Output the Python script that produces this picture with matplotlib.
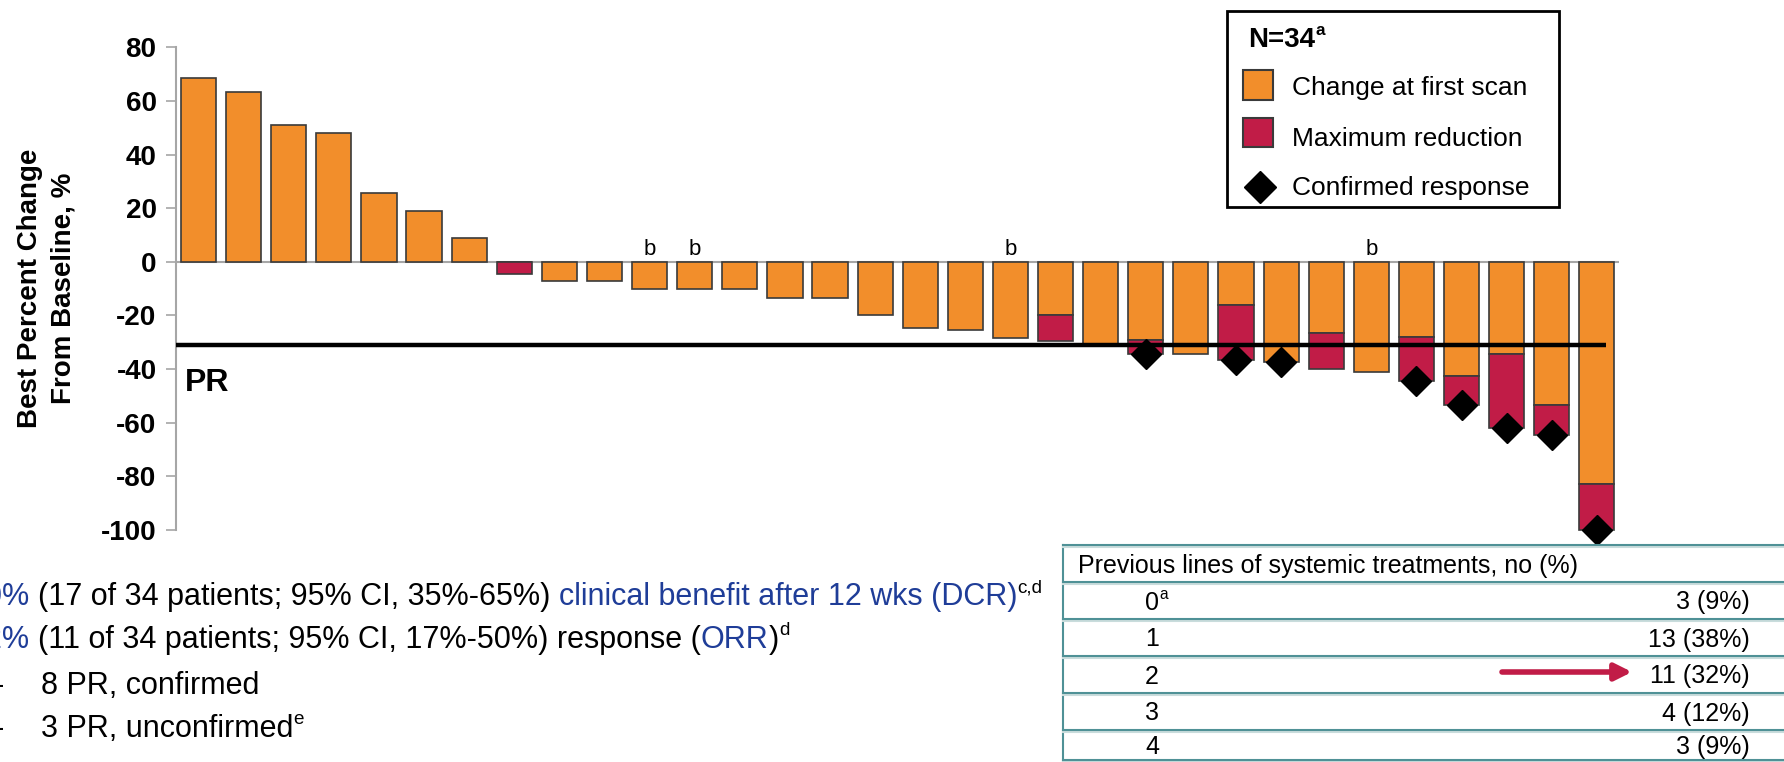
import matplotlib
matplotlib.use("Agg")
import matplotlib.pyplot as plt
import numpy as np
from matplotlib import font_manager
from matplotlib.patches import Rectangle

first_scan = [68.5, 63.5, 51, 48, 25.5, 19, 9, 0, -7, -7, -10, -10, -10, -13.5, -13.5,
              -20, -24.5, -25.5, -28.5, -20, -31, -29, -34.5, -16, -37.5, -26.5, -41,
              -28, -42.5, -34.5, -53.5, -83]
max_reduction = [68.5, 63.5, 51, 48, 25.5, 19, 9, -4.5, -7, -7, -10, -10, -10, -13.5, -13.5,
                 -20, -24.5, -25.5, -28.5, -29.5, -31, -34.5, -34.5, -36.5, -37.5, -40, -41,
                 -44.5, -53.5, -62, -64.5, -100]
confirmed = [21, 23, 24, 27, 28, 29, 30, 31]
footnote_b = [10, 11, 18, 26]
pr_threshold = -31
y_ticks = [80, 60, 40, 20, 0, -20, -40, -60, -80, -100]

# ---- baseline table ----
prior_lines = ["0", "1", "2", "3", "4"]
prior_counts = [3, 13, 11, 4, 3]
prior_pcts = [9, 38, 32, 12, 9]

W, H = 1784, 762
ORANGE = "#F28E2B"
RED = "#C11C47"
BLUE = "#1F3D98"
TEAL = "#4F9196"
EDGE = "#3A3A3A"
GRID = "#A6A6A6"

plt.rcParams["axes.unicode_minus"] = False
names = {f.name for f in font_manager.fontManager.ttflist}
NARROW = "Liberation Sans Narrow" if "Liberation Sans Narrow" in names else "Liberation Sans"
WIDE = "Liberation Sans"

fig = plt.figure(figsize=(W / 100, H / 100), dpi=100)
ax = fig.add_axes([176 / W, 1 - 530 / H, (1619.4 - 176) / W, (530 - 47.3) / H])

x = np.arange(len(first_scan))
first = np.array(first_scan, dtype=float)
best = np.array(max_reduction, dtype=float)

ax.axhline(0, color=GRID, lw=1.5, zorder=1)
ax.bar(x, first, width=0.78, color=ORANGE, edgecolor=EDGE, linewidth=1.2, zorder=2, clip_on=False)
more = best < first
ax.bar(x[more], (best - first)[more], bottom=first[more], width=0.78, color=RED,
       edgecolor=EDGE, linewidth=1.2, zorder=2, clip_on=False)
ax.hlines(pr_threshold, -0.5, len(x) - 0.8, color="black", lw=3.2, zorder=3)
ax.plot(x[confirmed], best[confirmed], "D", ms=15, color="black", zorder=4, clip_on=False)
for i in footnote_b:
    ax.text(x[i], 2.5, "b", ha="center", va="baseline", fontsize=16, family=NARROW)

ax.set_xlim(-0.5, len(x) - 0.5)
ax.set_ylim(-100, 80)
ax.set_xticks([])
ax.set_yticks(y_ticks)
ax.tick_params(axis="y", length=7, width=1.2, color=GRID, pad=7, labelsize=20)
for lab in ax.get_yticklabels():
    lab.set_family(NARROW)
    lab.set_fontweight("bold")
for side in ["top", "right", "bottom"]:
    ax.spines[side].set_visible(False)
ax.spines["left"].set_color(GRID)
ax.spines["left"].set_linewidth(1.5)

fig.text(47 / W, 1 - 288 / H, "Best Percent Change\nFrom Baseline, %", rotation=90,
         ha="center", va="center", fontsize=20, fontweight="bold", family=WIDE,
         linespacing=1.35, multialignment="center")

# overlay in pixel coordinates for legend, notes and table
ov = fig.add_axes([0, 0, 1, 1])
ov.set_xlim(0, W)
ov.set_ylim(H, 0)
ov.axis("off")
renderer = fig.canvas.get_renderer()


def advance(s, **kw):
    t = ov.text(0, 0, s + "|", **kw)
    w1 = t.get_window_extent(renderer).width
    t.set_text("|")
    w2 = t.get_window_extent(renderer).width
    t.remove()
    return w1 - w2


def put_runs(x0, base, runs, size, family=NARROW, weight="normal"):
    xc = x0
    for s, color, sup in runs:
        fs = size * 0.62 if sup else size
        yy = base - size * 1.389 * 0.42 if sup else base
        kw = dict(fontsize=fs, family=family, fontweight=weight, color=color)
        ov.text(xc, yy, s, ha="left", va="baseline", **kw)
        xc += advance(s, **kw)
    return xc


ov.text(185, 391, "PR", fontsize=23, fontweight="bold", family=NARROW, va="baseline")

# legend
ov.add_patch(Rectangle((1227, 11), 332, 196, fill=False, lw=2, edgecolor="black"))
put_runs(1248, 47, [("N=34", "black", False), ("a", "black", True)], 20, weight="bold")
ov.add_patch(Rectangle((1243, 70), 30, 30, fc=ORANGE, ec=EDGE, lw=1.5))
ov.add_patch(Rectangle((1243, 118), 30, 29, fc=RED, ec=EDGE, lw=1.5))
ov.plot([1260], [187], "D", ms=16, color="black")
for label, yc in [("Change at first scan", 85), ("Maximum reduction", 136), ("Confirmed response", 186)]:
    ov.text(1292, yc + 9.5, label, fontsize=19, family=NARROW, va="baseline")

# notes under the chart
NOTE = 22
kw_note = dict(fontsize=NOTE, family=NARROW)
lead1 = advance("50% ", **kw_note)
put_runs(38 - lead1, 605, [("50% ", BLUE, False),
                            ("(17 of 34 patients; 95% CI, 35%-65%) ", "black", False),
                            ("clinical benefit after 12 wks (DCR)", BLUE, False),
                            ("c,d", "black", True)], NOTE)
lead2 = advance("32% ", **kw_note)
put_runs(38 - lead2, 648, [("32% ", BLUE, False),
                            ("(11 of 34 patients; 95% CI, 17%-50%) response (", "black", False),
                            ("ORR", BLUE, False), (")", "black", False),
                            ("d", "black", True)], NOTE)
for base, runs in [(694, [("8 PR, confirmed", "black", False)]),
                   (737, [("3 PR, unconfirmed", "black", False), ("e", "black", True)])]:
    ov.text(3, base, "\u2013", ha="right", va="baseline", **kw_note)
    put_runs(41, base, runs, NOTE)

# table of previous lines
row_lines = [545, 582, 619, 656, 693, 730, 760]
ov.plot([1063, 1063], [545, H], color=TEAL, lw=1.5)
for yl in row_lines:
    ov.plot([1063, W], [yl + 2, yl + 2], color="#C9DCDC", lw=1.5)
    ov.plot([1063, W], [yl, yl], color=TEAL, lw=1.5)
ov.text(1078, 573, "Previous lines of systemic treatments, no (%)", fontsize=18,
        family=NARROW, va="baseline")
for k, (lab, n, p) in enumerate(zip(prior_lines, prior_counts, prior_pcts)):
    base = (row_lines[k + 1] + row_lines[k + 2]) / 2 + 9
    if k == 0:
        put_runs(1145, base, [(lab, "black", False), ("a", "black", True)], 18)
    else:
        ov.text(1145, base, lab, fontsize=18, family=NARROW, va="baseline")
    ov.text(1750, base, f"{n} ({p}%)", fontsize=18, family=NARROW, va="baseline", ha="right")

ov.annotate("", xy=(1632, 672), xytext=(1502, 672),
            arrowprops=dict(arrowstyle="-|>", color=RED, lw=4, mutation_scale=25,
                            shrinkA=0, shrinkB=0))

fig.savefig("out.png", dpi=100)
